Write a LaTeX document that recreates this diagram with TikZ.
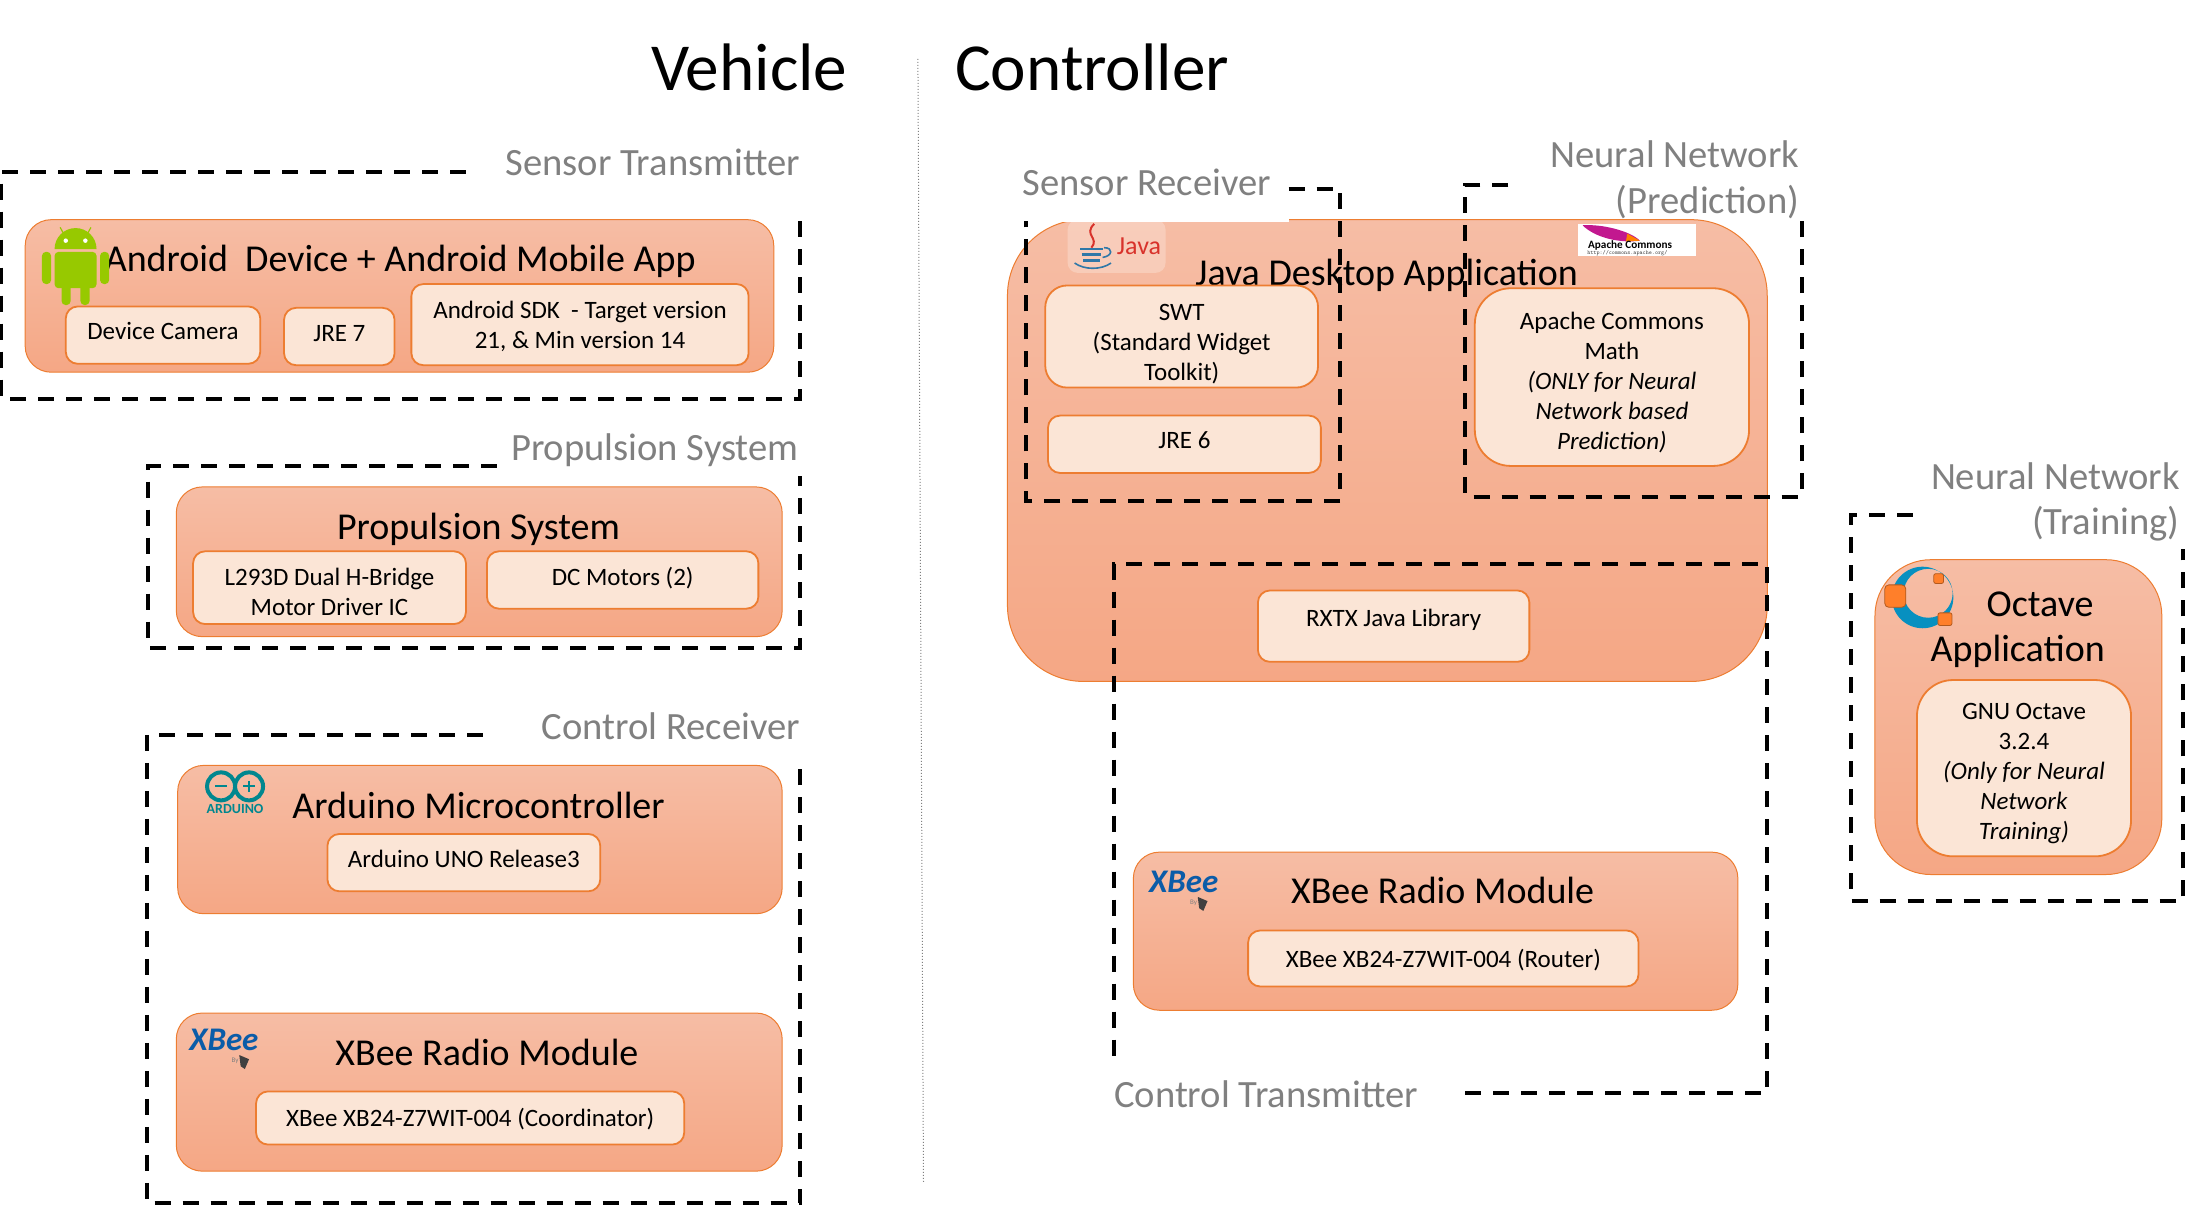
\documentclass[tikz,border=0pt]{standalone}
\usepackage{fontspec}
\setmainfont{Carlito}
\usetikzlibrary{arrows}
\newcommand{\pxunit}{0.6995pt}
\definecolor{boxedge}{HTML}{ED7D31}
\definecolor{boxtop}{HTML}{F6BDA5}
\definecolor{boxbot}{HTML}{F5A785}
\definecolor{innerfill}{HTML}{FBE5D6}
\definecolor{labelgray}{HTML}{808080}
\definecolor{androidgreen}{HTML}{97C900}
\definecolor{arduinoteal}{HTML}{00878F}
\definecolor{xbeeblue}{HTML}{0B5CA8}
\definecolor{javared}{HTML}{D8322B}
\definecolor{javablue}{HTML}{2F78A8}
\definecolor{octblue}{HTML}{0790C0}
\definecolor{octorange}{HTML}{FF7F2A}
\definecolor{featherpink}{HTML}{C2188F}

\begin{document}
\begin{tikzpicture}[x=\pxunit,y=-\pxunit,
        size/.style 2 args={minimum width=#1*\pxunit,minimum height=#2*\pxunit},
        outerbox/.style={draw=boxedge,line width=0.5pt,top color=boxtop,bottom color=boxbot,rounded corners=13pt},
        innerbox/.style={draw=boxedge,line width=0.9pt,fill=innerfill,rounded corners=6pt,inner sep=0pt,align=center,
          font=\fontsize{12.5}{15}\selectfont},
        boxtext/.style={inner sep=0pt,align=center,font=\fontsize{12.5}{15}\selectfont},
        boxtitle/.style={font=\fontsize{19}{22.4}\selectfont,inner sep=0pt,align=center},
        grouplabel/.style={font=\fontsize{19.3}{22.6}\selectfont,text=labelgray,inner sep=0pt,align=right,anchor=east},
        bigtitle/.style={font=\fontsize{33.6}{40}\selectfont,inner sep=0pt},
        dashbox/.style={draw=black,line width=2pt,dash pattern=on 8pt off 6pt},
        logotext/.style={inner sep=0pt},
        divider/.style={draw=gray,line width=0.5pt,densely dotted}]
      \useasboundingbox (0,0) rectangle (1568,861.9);

      % headings and divider
      \node[bigtitle] (vehicle) at (535.5,48) {Vehicle};
      \node[bigtitle] (controller) at (780.5,48) {Controller};
      \coordinate (divtop) at (656,42);
      \coordinate (divbot) at (660,845);
      \path[divider] (divtop) -- (divbot);

      % vehicle side
      \node[outerbox,size={535}{109}] (android) at (285.5,211.5) {};
      \node[boxtitle] (androidtitle) at (286,187) {Android\ \ Device + Android Mobile App};
      \node[innerbox,size={139}{41},text depth=4pt] (camera) at (116.5,239.5) {Device Camera};
      \node[innerbox,size={79}{41},text depth=3pt] (jre7) at (242.5,240.5) {JRE 7};
      \node[innerbox,size={241}{58}] (sdk) at (414.5,232) {};
      \node[boxtext] (sdktext) at (414.5,233) {Android SDK\ \ - Target version\\21, \& Min version 14};

      \node[outerbox,size={433}{107}] (propulsion) at (342.5,401.5) {};
      \node[boxtitle] (propulsiontitle) at (342,378) {Propulsion System};
      \node[innerbox,size={195}{52}] (driver) at (235.5,420) {};
      \node[boxtext] (drivertext) at (235.5,423) {L293D Dual H-Bridge\\Motor Driver IC};
      \node[innerbox,size={194}{41},text depth=3.5pt] (motors) at (445,414.5) {DC Motors (2)};

      \node[outerbox,size={432}{106}] (arduino) at (343,600) {};
      \node[boxtitle] (arduinotitle) at (342,575.5) {Arduino Microcontroller};
      \node[innerbox,size={195}{41},text depth=4pt] (uno) at (331.5,616.5) {Arduino UNO Release3};

      \node[outerbox,size={433}{113}] (xbeeveh) at (342.5,780.5) {};
      \node[boxtitle] (xbeevehtitle) at (348,752) {XBee Radio Module};
      \node[innerbox,size={306}{38}] (coord) at (336,799) {};
      \node[boxtext] (coordtext) at (336,799.5) {XBee XB24-Z7WIT-004 (Coordinator)};

      % controller side
      \node[outerbox,size={543}{330},rounded corners=38pt] (javaapp) at (991.5,322) {};
      \fill[white] (722,115) rectangle (921,158.5);
      \node[boxtitle] (javatitle) at (991,197) {Java Desktop Application};
      \node[innerbox,size={195}{73},rounded corners=11pt] (swt) at (844.5,240.5) {};
      \node[boxtext] (swttext) at (844.5,246) {SWT\\(Standard Widget\\Toolkit)};
      \node[innerbox,size={195}{41},text depth=4pt] (jre6) at (846.5,317.5) {JRE 6};
      \node[innerbox,size={196}{127},rounded corners=18pt] (commons) at (1152,269.5) {};
      \node[boxtext] (commonstext) at (1152,273.5) {Apache Commons\\Math\\\textit{(ONLY for Neural}\\\textit{Network based}\\\textit{Prediction)}};
      \node[innerbox,size={194}{51},text depth=8pt] (rxtx) at (996,447.5) {RXTX Java Library};

      \node[outerbox,size={432}{113}] (xbeectl) at (1026,665.5) {};
      \node[boxtitle] (xbeectltitle) at (1031,636.5) {XBee Radio Module};
      \node[innerbox,size={279}{40}] (router) at (1031.5,685) {};
      \node[boxtext] (routertext) at (1031.5,686) {XBee XB24-Z7WIT-004 (Router)};

      \node[outerbox,size={205}{225},rounded corners=28pt] (octave) at (1442.5,512.5) {};
      \node[boxtitle] (octavetitle) at (1458,432) {Octave};
      \node[boxtitle] (octavetitleb) at (1442,465.5) {Application};
      \node[innerbox,size={153}{126},rounded corners=18pt] (gnu) at (1446.5,549) {};
      \node[boxtext] (gnutext) at (1446.5,553) {GNU Octave\\3.2.4\\\textit{(Only for Neural}\\\textit{Network}\\\textit{Training)}};

      % group outlines
      \path[dashbox] (333,123) -- (1,123) -- (1,285) -- (572,285) -- (572,153);
      \path[dashbox] (355,333) -- (106,333) -- (106,463) -- (572,463) -- (572,340);
      \path[dashbox] (345,525) -- (105,525) -- (105,860) -- (572,860) -- (572,545);
      \path[dashbox] (921,135) -- (958,135) -- (958,358) -- (733,358) -- (733,158);
      \path[dashbox] (1078,132) -- (1047,132) -- (1047,355) -- (1288,355) -- (1288,155);
      \path[dashbox] (1367,368) -- (1323,368) -- (1323,644) -- (1560,644) -- (1560,392);
      \path[dashbox] (1047,781) -- (1263,781) -- (1263,403) -- (796,403) -- (796,755);

      \node[grouplabel] (sensortx) at (572,116) {Sensor Transmitter};
      \node[grouplabel] (propgroup) at (571,322) {Propulsion System};
      \node[grouplabel] (controlrx) at (572,519) {Control Receiver};
      \node[grouplabel,anchor=west] (sensorrx) at (730.5,130.5) {Sensor Receiver};
      \node[grouplabel] (nnpred) at (1286,128.5) {Neural Network\\(Prediction)};
      \node[grouplabel] (nntrain) at (1558,358.5) {Neural Network\\(Training)};
      \node[grouplabel,anchor=west] (controltx) at (796,782) {Control Transmitter};

      % android logo
      \fill[androidgreen] (39,178) arc[start angle=180,end angle=360,radius=15] -- cycle;
      \draw[androidgreen,line width=0.6pt] (46,168) -- (43,162.5) (62,168) -- (65,162.5);
      \fill[white] (47,172) circle (1.6) (61,172) circle (1.6);
      \fill[androidgreen,rounded corners=2pt] (39,180) rectangle (69,206);
      \fill[androidgreen,rounded corners=2pt] (30,180) rectangle (36.5,203) (71.5,180) rectangle (78,203);
      \fill[androidgreen,rounded corners=2pt] (44,200) rectangle (50.5,218) (57.5,200) rectangle (64,218);

      % java logo
      \fill[white,opacity=0.25,rounded corners=5pt] (763,157) rectangle (833,195);
      \draw[javared,line width=1pt] (782,160) .. controls (774,168) and (786,170) .. (780,177);
      \draw[javablue,line width=1.3pt] (772,178) -- (788,178) (773,182) -- (787,182) (774,186) -- (786,186);
      \draw[javablue,line width=0.8pt] (768,188) .. controls (775,193) and (787,193) .. (794,188);
      \draw[javablue,line width=0.8pt] (789,177) .. controls (796,177) and (795,183) .. (788,184);
      \node[logotext,text=javared,font=\fontsize{13}{14}\selectfont] (javalogo) at (814,176) {Java};

      % apache logo
      \fill[white] (1128,160) rectangle (1212,183);
      \fill[featherpink] (1131,161) .. controls (1145,160) and (1165,165) .. (1172,172) .. controls (1158,174) and (1140,170) .. (1131,161);
      \fill[orange] (1163,167) -- (1172,172) -- (1162,172.5) -- cycle;
      \node[logotext,font=\bfseries\fontsize{5.6}{6}\selectfont] (apachelogo) at (1165,175.5) {Apache Commons};
      \node[logotext,text=darkgray,font=\ttfamily\fontsize{2.9}{3}\selectfont] (apacheurl) at (1163,180.8) {http://commons.apache.org/};

      % arduino logo
      \draw[arduinoteal,line width=2pt] (158,562) circle (10) (178,562) circle (10);
      \draw[arduinoteal,line width=1.1pt] (154,562) -- (162,562) (174,562) -- (182,562) (178,558) -- (178,566);
      \node[logotext,text=arduinoteal,font=\bfseries\fontsize{7}{8}\selectfont] (arduinologo) at (168,578) {ARDUINO};

      % xbee logos
      \node[logotext,text=xbeeblue,font=\bfseries\itshape\fontsize{16.5}{18}\selectfont] (xbeelogoa) at (160,743) {XBee};
      \node[logotext,text=gray,font=\fontsize{3.5}{4}\selectfont] (bya) at (168,758) {By};
      \fill[darkgray] (171,754) -- (178,757) -- (175,764) -- (172,762) -- cycle;
      \node[logotext,text=xbeeblue,font=\bfseries\itshape\fontsize{16.5}{18}\selectfont] (xbeelogob) at (846,630) {XBee};
      \node[logotext,text=gray,font=\fontsize{3.5}{4}\selectfont] (byb) at (853,645) {By};
      \fill[darkgray] (856,641) -- (863,644) -- (860,651) -- (857,649) -- cycle;

      % octave logo
      \fill[octblue,even odd rule] (1374,427) circle (22) (1378,424) circle (17.5);
      \draw[black!30!octorange,line width=0.4pt,fill=octorange,rounded corners=2pt] (1347,418) rectangle (1362,434);
      \draw[black!30!octorange,line width=0.4pt,fill=octorange,rounded corners=1pt] (1382,410) rectangle (1389,417);
      \draw[black!30!octorange,line width=0.4pt,fill=octorange,rounded corners=1pt] (1385,438) rectangle (1395,447);
    \end{tikzpicture}
\end{document}
